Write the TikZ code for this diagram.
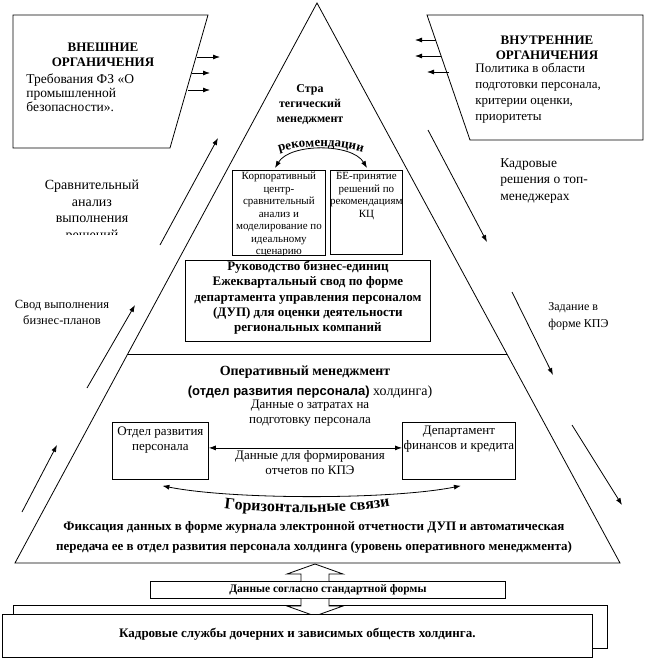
\documentclass[tikz,border=0pt]{standalone}
\usepackage{fontspec}
\setmainfont{Liberation Serif}
\newfontfamily\heavyfont{Liberation Sans}
\usetikzlibrary{arrows, arrows.meta, positioning, calc, decorations.text}

\begin{document}
\begin{tikzpicture}[x=1pt, y=1pt, line width=0.8pt,
    >={Latex[length=7pt,width=5pt]},
    font=\fontsize{13}{15}\selectfont,
    lbl/.style={align=center, inner sep=0pt},
    lbll/.style={align=left, inner sep=0pt},
    box/.style={draw, fill=white, inner sep=0pt, anchor=north west},
    small/.style={font=\fontsize{11}{12.5}\selectfont}]
    \useasboundingbox (0,0) rectangle (647,-658);

    \coordinate (A) at (317,-3);
    \coordinate (L) at (15,-563);
    \coordinate (R) at (620,-563);
    \draw (A)--(L)--(R)--cycle;
    \draw ($(A)!0.627!(L)$) -- ($(A)!0.627!(R)$);

    \draw (13,-15) -- (208,-15) -- (170,-148) -- (13,-148) -- cycle;
    \node[lbl, font=\bfseries\fontsize{13}{15}\selectfont] (extT) at (103,-55) {ВНЕШНИЕ\\ОРГАНИЧЕНИЯ};
    \node[lbll, anchor=north west, font=\fontsize{13.5}{14}\selectfont] (extD) at (26,-73) {Требования ФЗ «О\\промышленной\\безопасности».};
    \coordinate (e1) at (197,-57);
    \coordinate (e2) at (192,-73);
    \coordinate (e3) at (188,-90);
    \draw[->] (e1) -- ++(23,0);
    \draw[->] (e2) -- ++(18,0);
    \draw[->] (e3) -- ++(22,0);

    \draw (427,-15) -- (643,-15) -- (643,-140) -- (470,-140) -- cycle;
    \node[lbl, font=\bfseries\fontsize{13}{15}\selectfont] (intT) at (547,-48) {ВНУТРЕННИЕ\\ОРГАНИЧЕНИЯ};
    \node[lbll, anchor=north west, font=\fontsize{13}{16}\selectfont] (intD) at (475,-63) {Политика в области\\подготовки персонала,\\критерии оценки,\\приоритеты};
    \coordinate (i1) at (436,-40);
    \coordinate (i2) at (441,-56);
    \coordinate (i3) at (449,-72);
    \draw[->] (i1) -- ++(-21,0);
    \draw[->] (i2) -- ++(-26,0);
    \draw[->] (i3) -- ++(-22,0);

    \node[lbl, font=\bfseries\fontsize{12}{15}\selectfont] (strat) at (310,-105) {Стра\\тегический\\менеджмент};
    \draw[<->] (275,-168) .. controls (290,-143) and (352,-143) .. (367,-168);
    \path[decorate, decoration={text along path, text align=center,
        text={|\bfseries\fontsize{13}{13}\selectfont|рекомендации}}]
        (262,-160) .. controls (287,-142) and (355,-142) .. (380,-160);

    \node[box, minimum width=93, minimum height=85] (kc) at (232,-170) {};
    \node[box, minimum width=72, minimum height=84] (be) at (330,-170) {};
    \begin{scope}
        \clip (kc.north west) rectangle (kc.south east);
        \node[lbl, small, anchor=north] (kcT) at ($(kc.north)+(0,-2)$) {Корпоративный\\центр-\\сравнительный\\анализ и\\моделирование по\\идеальному\\сценарию};
    \end{scope}
    \node[lbl, small, anchor=north] (beT) at ($(be.north)+(0,-2)$) {БЕ-принятие\\решений по\\рекомендациям\\КЦ};

    \node[box, minimum width=245, minimum height=81] (ruk) at (185,-260) {};
    \node[lbl, font=\bfseries\fontsize{13}{15.3}\selectfont] (rukT) at ($(ruk.center)+(0,3)$) {Руководство бизнес-единиц\\Ежеквартальный свод по форме\\департамента управления персоналом\\(ДУП) для оценки деятельности\\региональных компаний};

    \node[lbl, font=\bfseries\fontsize{14}{16}\selectfont] (oper) at (305,-372) {Оперативный менеджмент};
    \node[lbl, font=\fontsize{14}{16}\selectfont] (otdel) at (310,-392) {{\heavyfont\bfseries\fontsize{13}{16}\selectfont(отдел развития персонала)} холдинга)};
    \node[lbl] (zatr) at (310,-413) {Данные о затратах на\\подготовку персонала};

    \node[box, minimum width=96, minimum height=57] (ord) at (112,-422) {};
    \node[box, minimum width=113, minimum height=57] (dfk) at (402,-422) {};
    \node[lbl, anchor=north] (ordT) at ($(ord.north)+(0,-4)$) {Отдел развития\\персонала};
    \node[lbl, anchor=north] (dfkT) at ($(dfk.north)+(0,-4)$) {Департамент\\финансов и кредита};
    \draw[<->] ($(ord.east)+(0,3)$) -- ($(dfk.west)+(0,3)$);
    \node[lbl] (kpe) at (310,-463) {Данные для формирования\\отчетов по КПЭ};

    \draw[<->] ($(ord.south)+(2,-6)$) .. controls +(70,-14) and +(-70,-14) .. ($(dfk.south)+(2,-6)$);
    \path[decorate, decoration={text along path, text align=center,
        text={|\bfseries\fontsize{16}{16}\selectfont|Горизонтальные связи}}]
        (222,-508) .. controls (262,-514) and (350,-514) .. (392,-506);

    \node[lbl, font=\bfseries\fontsize{13}{20}\selectfont] (fix) at (314,-537) {Фиксация данных в форме журнала электронной отчетности ДУП и автоматическая\\передача ее в отдел развития персонала холдинга (уровень оперативного менеджмента)};

    \node[box, minimum width=355, minimum height=17] (std) at (150,-581) {};
    \node[lbl, font=\bfseries\fontsize{11.5}{13}\selectfont] (stdT) at (std.center) {Данные согласно стандартной формы};
    \draw[fill=white] (std.north -| 301,0) -- (301,-574) -- (287,-574) -- (315,-564) -- (343,-574) -- (329,-574) -- (std.north -| 329,0);

    \node[box, minimum width=594, minimum height=43] (kadB) at (13,-605) {};
    \draw[fill=white] (std.south -| 301,0) -- (301,-606) -- (287,-606) -- (315,-616) -- (343,-606) -- (329,-606) -- (std.south -| 329,0);
    \node[box, minimum width=590, minimum height=43] (kad) at (2,-614) {};
    \node[lbl, font=\bfseries\fontsize{13}{15}\selectfont] (kadT) at ($(kad.center)+(0,2)$) {Кадровые службы дочерних и зависимых обществ холдинга.};

    \begin{scope}
        \clip (0,-160) rectangle (200,-234);
        \node[lbl, anchor=north, font=\fontsize{14}{16.5}\selectfont] (srav) at (92,-180) {Сравнительный\\анализ\\выполнения\\решений};
    \end{scope}
    \node[lbl, font=\fontsize{12.5}{16}\selectfont] (svod) at (62,-312) {Свод выполнения\\бизнес-планов};
    \node[lbll, anchor=north west, font=\fontsize{13.5}{16.5}\selectfont] (kadr) at (500,-158) {Кадровые\\решения о топ-\\менеджерах};
    \node[lbll, anchor=north west, font=\fontsize{12}{17}\selectfont] (zad) at (548,-302) {Задание в\\форме КПЭ};

    \coordinate (a1) at (160,-245);
    \coordinate (b1) at (218,-138);
    \coordinate (a2) at (87,-388);
    \coordinate (b2) at (135,-305);
    \coordinate (a3) at (22,-512);
    \coordinate (b3) at (57,-445);
    \coordinate (c1) at (428,-130);
    \coordinate (d1) at (487,-242);
    \coordinate (c2) at (512,-292);
    \coordinate (d2) at (553,-375);
    \coordinate (c3) at (572,-425);
    \coordinate (d3) at (622,-505);
    \foreach \s/\t in {a1/b1, a2/b2, a3/b3, c1/d1, c2/d2, c3/d3}
        \draw[->] (\s) -- (\t);
\end{tikzpicture}
\end{document}
